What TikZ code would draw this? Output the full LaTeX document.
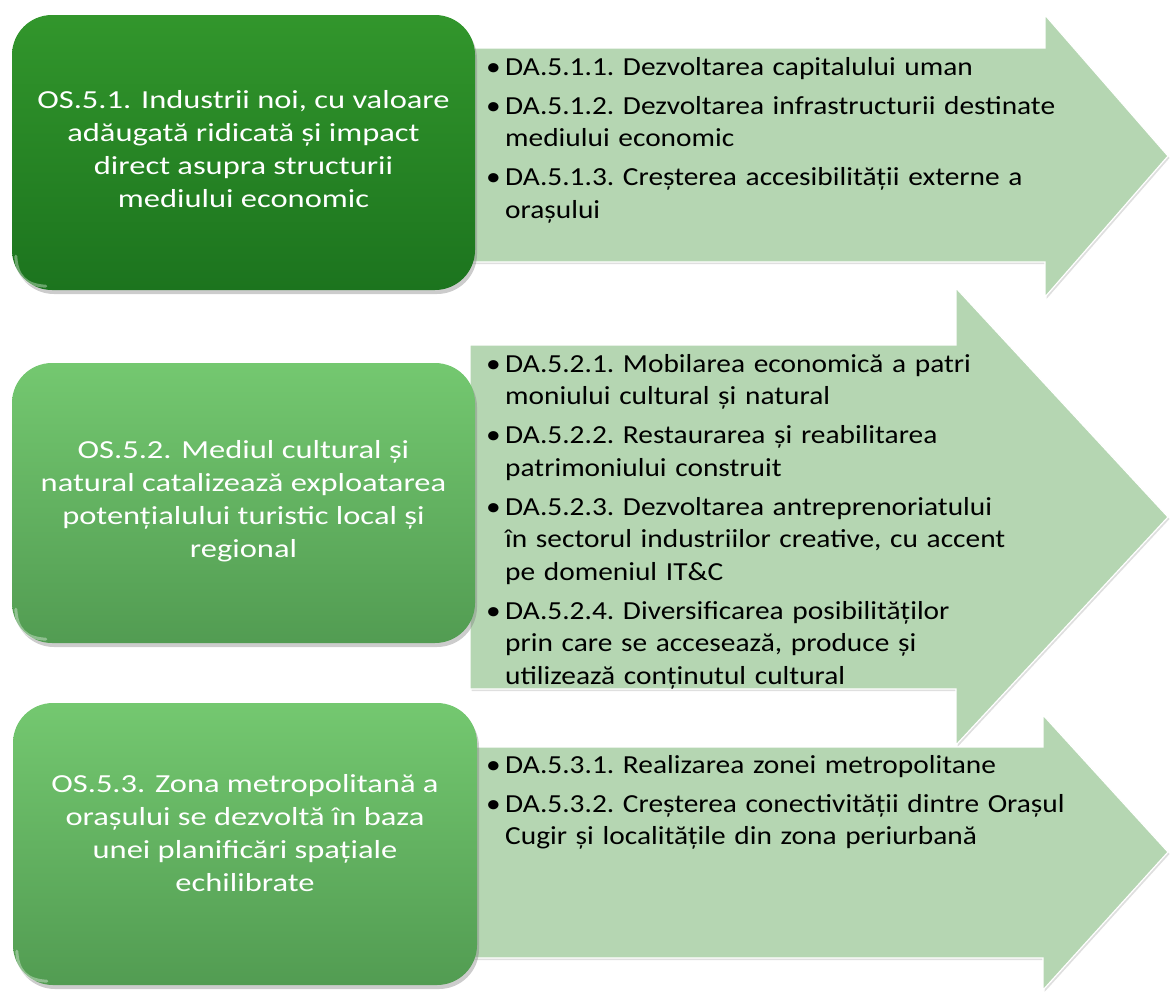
\documentclass[tikz,border=0pt]{standalone}
\usepackage{fontspec}
\setmainfont{Carlito}
\newfontfamily\boxfont[FakeStretch=1.25]{Carlito}
\newfontfamily\dafont[FakeStretch=1.13]{Carlito}
\usetikzlibrary{shadows,calc}
\definecolor{arrowgreen}{RGB}{181,214,178}
\definecolor{darkA}{RGB}{50,150,44}
\definecolor{darkB}{RGB}{28,116,30}
\definecolor{lightA}{RGB}{116,200,112}
\definecolor{lightB}{RGB}{82,156,82}
\newcommand{\daitem}[1]{\noindent\hspace*{3pt}\makebox[19pt][l]{\textbullet}%
  \parbox[t]{620pt}{\frenchspacing #1\par\xdef\lastpd{\the\prevdepth}}\par
  \prevdepth=\lastpd\vskip 6.5pt}
\tikzset{
  arrowshape/.style={fill=arrowgreen, draw=white, line width=1.2pt,
    drop shadow={opacity=0.25, shadow xshift=1.5pt, shadow yshift=-2pt}},
  osbox/.style={rounded corners=40pt, draw=none,
    minimum width=463pt, inner sep=0pt,
    drop shadow={opacity=0.4, shadow xshift=2pt, shadow yshift=-4pt}},
  darkbox/.style={osbox, top color=darkA, bottom color=darkB},
  lightbox/.style={osbox, top color=lightA, bottom color=lightB},
  gloss/.style={draw=white, opacity=0.35, line width=3pt, line cap=round},
  ostext/.style={text=white, align=center, inner sep=0pt, anchor=north,
    font=\boxfont\fontsize{26}{33}\selectfont},
  datext/.style={text=black, anchor=north west, inner sep=0pt, text width=660pt,
    font=\dafont\fontsize{26}{32.5}\selectfont}
}
\newcommand{\glossarc}[1]{%
  \draw[gloss] ($(#1.south west)+(4,-34)$) .. controls ($(#1.south west)+(5,-14)$) and ($(#1.south west)+(14,-5)$) .. ($(#1.south west)+(34,-4)$);}
\begin{document}
\begin{tikzpicture}[x=1pt,y=-1pt]
\useasboundingbox (0,0) rectangle (1173,991);
% arrows
\path[arrowshape] (470,48) -- (1045,48) -- (1045,15) -- (1168,156) -- (1045,297) -- (1045,262) -- (470,262) -- cycle;
\path[arrowshape] (470,345) -- (956,345) -- (956,288) -- (1168,517) -- (956,745) -- (956,689) -- (470,689) -- cycle;
\path[arrowshape] (470,747) -- (1043,747) -- (1043,715) -- (1168,852) -- (1043,990) -- (1043,958) -- (470,958) -- cycle;
% boxes
\node[darkbox, minimum height=275pt] (box1) at (243.5,152.5) {};
\node[lightbox, minimum height=280pt] (box2) at (243.5,503) {};
\node[lightbox, minimum height=282pt, minimum width=464pt] (box3) at (245,844) {};
\glossarc{box1}
\glossarc{box2}
\glossarc{box3}
\node[ostext] (t1) at (243.5,89) {\vrule height 19pt width 0pt OS.5.1. Industrii noi, cu valoare\\adăugată ridicată și impact\\direct asupra structurii\\mediului economic};
\node[ostext] (t2) at (243.5,439) {\vrule height 19pt width 0pt OS.5.2. Mediul cultural și\\natural catalizează exploatarea\\potențialului turistic local și\\regional};
\node[ostext] (t3) at (245,773) {\vrule height 19pt width 0pt OS.5.3. Zona metropolitană a\\orașului se dezvoltă în baza\\unei planificări spațiale\\echilibrate};
% arrow texts
\node[datext] (d1) at (483,56) {\vrule height 19pt width 0pt%
\daitem{DA.5.1.1. Dezvoltarea capitalului uman}
\daitem{DA.5.1.2. Dezvoltarea infrastructurii destinate\\mediului economic}
\daitem{DA.5.1.3. Creșterea accesibilității externe a\\orașului}};
\node[datext] (d2) at (483,353) {\vrule height 19pt width 0pt%
\daitem{DA.5.2.1. Mobilarea economică a patri\\moniului cultural și natural}
\daitem{DA.5.2.2. Restaurarea și reabilitarea\\patrimoniului construit}
\daitem{DA.5.2.3. Dezvoltarea antreprenoriatului\\în sectorul industriilor creative, cu accent\\pe domeniul IT\&C}
\daitem{DA.5.2.4. Diversificarea posibilităților\\prin care se accesează, produce și\\utilizează conținutul cultural}};
\node[datext] (d3) at (483,754) {\vrule height 19pt width 0pt%
\daitem{DA.5.3.1. Realizarea zonei metropolitane}
\daitem{DA.5.3.2. Creșterea conectivității dintre Orașul\\Cugir și localitățile din zona periurbană}};
\end{tikzpicture}
\end{document}
